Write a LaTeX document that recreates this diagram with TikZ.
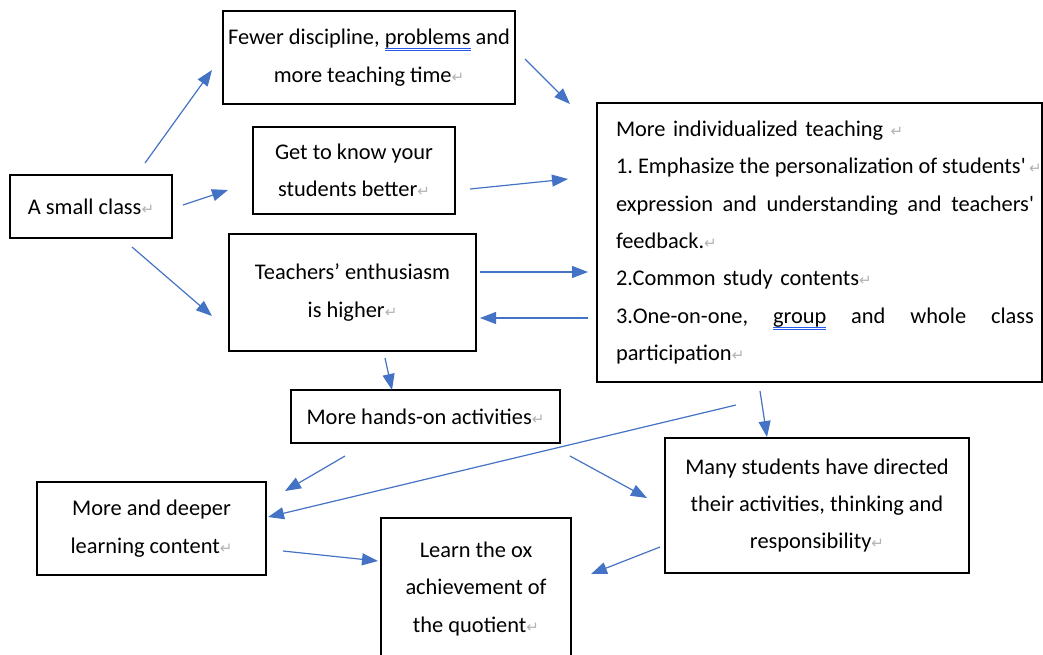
\documentclass[tikz,border=0pt]{standalone}
\usepackage{fontspec}
\setmainfont{Carlito}
\newfontfamily\djv{DejaVu Sans}
\usetikzlibrary{arrows.meta}
\definecolor{arrblue}{RGB}{68,114,196}
\definecolor{ulblue}{RGB}{40,90,235}
\frenchspacing
\newsavebox\ulbox
\newcommand\rmk{{\djv\color{gray!60}\fontsize{7.5}{7.5}\selectfont ↵}}
\newcommand\dul[1]{\sbox\ulbox{#1}\rlap{\textcolor{ulblue}{\rule[-2.1pt]{\wd\ulbox}{0.45pt}}}\rlap{\textcolor{ulblue}{\rule[-3.2pt]{\wd\ulbox}{0.45pt}}}\usebox\ulbox}
\newcommand\bline[1]{\leavevmode\rlap{#1}}
\newcommand\jline[1]{\leavevmode\rlap{\hbox to 209pt{#1}}}
\newcommand\tsp{\hskip 2.5pt minus 1.5pt\relax}
\begin{document}
\begin{tikzpicture}[x=0.5pt,y=-0.5pt,
  box/.style={draw, line width=1.2pt, inner sep=0pt, align=center, font=\fontsize{11.2}{18.7}\selectfont},
  arr/.style={draw=arrblue, line width=0.6pt, -{Triangle[length=8pt,width=6pt]}}]
\useasboundingbox (0,0) rectangle (1043,654);
\node[box, minimum width=81pt, minimum height=31.5pt] (small) at (91,206.5) {A small class\rmk};
\node[box, minimum width=146pt, minimum height=46.5pt] (fewer) at (369,57.5) {Fewer discipline, \dul{problems} and\\more teaching time\rmk};
\node[box, minimum width=101pt, minimum height=43.5pt] (know) at (354,170.5) {Get to know your\\students better\rmk};
\node[box, minimum width=123.5pt, minimum height=58.5pt] (enth) at (352.5,292.5) {Teachers’ enthusiasm\\is higher\rmk};
\node[box, minimum width=134.5pt, minimum height=26.5pt] (hands) at (425.5,416.5) {More hands-on activities\rmk};
\node[box, minimum width=114.5pt, minimum height=46.5pt] (deeper) at (151.5,528.5) {More and deeper\\learning content\rmk};
\node[box, minimum width=95pt, minimum height=71pt] (learn) at (476,589) {Learn the ox\\achievement of\\the quotient\rmk};
\node[box, minimum width=152pt, minimum height=67.5pt] (many) at (817,505.5) {Many students have directed\\their activities, thinking and\\responsibility\rmk};
\node[box, align=left, text width=203.5pt, inner xsep=9.5pt, inner ysep=0pt, minimum height=139.5pt] (big) at (819.5,242.5) {%
\bline{More individualized teaching \rmk}\\
\bline{\hbox to 206.5pt{1.\tsp Emphasize\tsp the\tsp personalization\tsp of\tsp students\textquotesingle}\rmk}\\
\jline{expression\hfill and\hfill understanding\hfill and\hfill teachers\textquotesingle}\\
\bline{feedback.\rmk}\\
\bline{2.Common study contents\rmk}\\
\jline{3.One-on-one,\hfill\dul{group}\hfill and\hfill whole\hfill class}\\
\bline{participation\rmk}};
\draw[arr] ([shift={(54,-43.5)}]small.center) -- ([shift={(-157,12.5)}]fewer.center);
\draw[arr] ([shift={(92,-1.5)}]small.center) -- ([shift={(-126,19.5)}]know.center);
\draw[arr] ([shift={(41,40.5)}]small.center) -- ([shift={(-140.5,23.5)}]enth.center);
\draw[arr] ([shift={(156,1.5)}]fewer.center) -- ([shift={(-249.5,-138.5)}]big.center);
\draw[arr] ([shift={(116,18.5)}]know.center) -- ([shift={(-251.5,-63.5)}]big.center);
\draw[arr] ([shift={(127.5,-20.5)}]enth.center) -- ([shift={(-231.5,29.5)}]big.center);
\draw[arr] ([shift={(-231.5,75.5)}]big.center) -- ([shift={(127.5,25.5)}]enth.center);
\draw[arr] ([shift={(32.5,65.5)}]enth.center) -- ([shift={(-33.5,-26.5)}]hands.center);
\draw[arr] ([shift={(-59.5,148.5)}]big.center) -- ([shift={(-50,-68.5)}]many.center);
\draw[arr] ([shift={(-83.5,162.5)}]big.center) -- ([shift={(116.5,-11.5)}]deeper.center);
\draw[arr] ([shift={(-80.5,39.5)}]hands.center) -- ([shift={(133.5,-37.5)}]deeper.center);
\draw[arr] ([shift={(144.5,39.5)}]hands.center) -- ([shift={(-170,-7.5)}]many.center);
\draw[arr] ([shift={(131.5,22.5)}]deeper.center) -- ([shift={(-98,-28)}]learn.center);
\draw[arr] ([shift={(-157,41.5)}]many.center) -- ([shift={(115,-15)}]learn.center);
\end{tikzpicture}
\end{document}
